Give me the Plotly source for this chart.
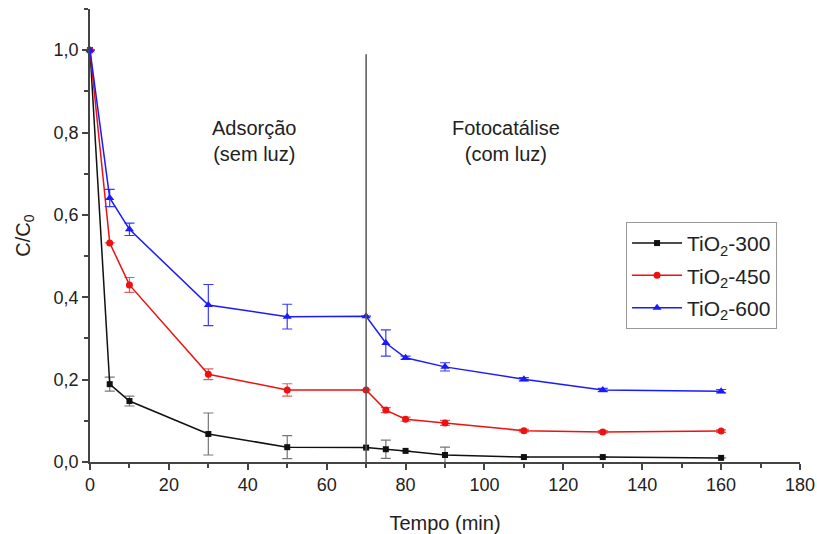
import plotly.graph_objects as go

t = [0, 5, 10, 30, 50, 70, 75, 80, 90, 110, 130, 160]
tio2_300 = [1.0, 0.189, 0.148, 0.068, 0.036, 0.035, 0.031, 0.027, 0.017, 0.012, 0.012, 0.010]
tio2_300_err = [0, 0.017, 0.012, 0.051, 0.028, 0, 0.022, 0, 0.019, 0, 0, 0]
tio2_450 = [1.0, 0.532, 0.430, 0.213, 0.175, 0.175, 0.126, 0.104, 0.095, 0.076, 0.073, 0.075]
tio2_450_err = [0, 0, 0.018, 0.013, 0.015, 0, 0.006, 0.005, 0.006, 0.003, 0.003, 0.003]
tio2_600 = [1.0, 0.641, 0.565, 0.381, 0.353, 0.354, 0.289, 0.253, 0.231, 0.201, 0.175, 0.172]
tio2_600_err = [0, 0.021, 0.015, 0.05, 0.03, 0, 0.032, 0.004, 0.01, 0.004, 0.004, 0.004]

series = [
    ("TiO<sub>2</sub>-300", tio2_300, tio2_300_err, "#111111", "#777777", "square", 6),
    ("TiO<sub>2</sub>-450", tio2_450, tio2_450_err, "#ee1111", "#e06060", "circle", 7),
    ("TiO<sub>2</sub>-600", tio2_600, tio2_600_err, "#1a1aff", "#3a3aff", "triangle-up", 8),
]

fig = go.Figure()
for i, (name, y, err, col, ecol, sym, ms) in enumerate(series):
    fig.add_trace(go.Scatter(
        x=t, y=y, name=name, mode="lines+markers",
        line=dict(color=col, width=1.5),
        marker=dict(symbol=sym, size=ms, color=col),
        error_y=dict(type="data", array=err, visible=True, color=ecol, thickness=1.2, width=5),
        cliponaxis=False, legendgroup=f"g{i}",
    ))

fig.add_shape(type="line", x0=70, x1=70, y0=0, y1=0.99, xref="x", yref="y",
              line=dict(color="#555555", width=1.5))

fig.add_annotation(x=41.7, y=0.78, text="Adsorção<br>(sem luz)", showarrow=False,
                   font=dict(family="Liberation Sans, Arial", size=20, color="#222222"))
fig.add_annotation(x=105.4, y=0.78, text="Fotocatálise<br>(com luz)", showarrow=False,
                   font=dict(family="Liberation Sans, Arial", size=20, color="#222222"))

fig.update_layout(
    width=817, height=534,
    margin=dict(l=90, r=17, t=9, b=72),
    paper_bgcolor="white", plot_bgcolor="white",
    separators=",.",
    font=dict(family="Liberation Sans, Arial", size=18, color="#222222"),
    showlegend=True,
    legend=dict(x=0.755, y=0.53, xanchor="left", yanchor="top",
                bordercolor="#999999", borderwidth=1, bgcolor="white",
                font=dict(size=21), tracegroupgap=2, itemwidth=50),
)
fig.update_xaxes(
    range=[0, 180], dtick=20, tick0=0, showgrid=False, zeroline=False,
    showline=True, linecolor="#444444", linewidth=1.5, automargin=False,
    ticks="outside", ticklen=6, tickcolor="#444444", tickwidth=1.5,
    minor=dict(dtick=10, ticks="outside", ticklen=4, tickcolor="#444444", tickwidth=1.5),
    title=dict(text="Tempo (min)", font=dict(size=20), standoff=22),
)
fig.update_yaxes(
    range=[0, 1.1], dtick=0.2, tick0=0, tickformat=".1f", showgrid=False, zeroline=False,
    showline=True, linecolor="#444444", linewidth=1.5, automargin=False,
    ticks="outside", ticklen=6, tickcolor="#444444", tickwidth=1.5,
    minor=dict(dtick=0.1, ticks="outside", ticklen=4, tickcolor="#444444", tickwidth=1.5),
    title=dict(text="C/C<sub>0</sub>", font=dict(size=20), standoff=18),
)

fig.write_html("out.html")
